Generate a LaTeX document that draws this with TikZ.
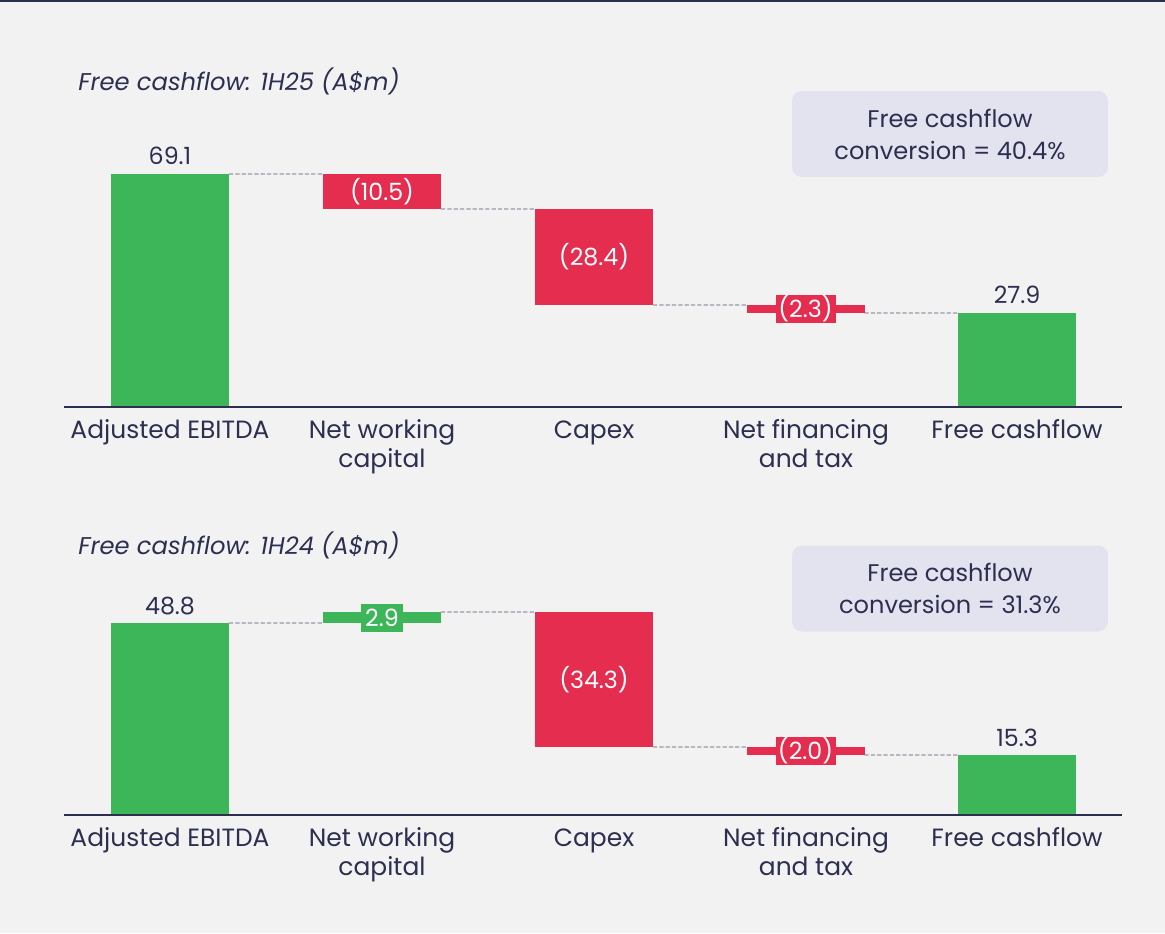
\documentclass[tikz,border=0pt]{standalone}
\usepackage{fontspec}
\setmainfont{Poppins}
\usepackage{tikz}

\definecolor{cfgreen}{HTML}{3DB559}
\definecolor{cfred}{HTML}{E52D50}
\definecolor{cfnavy}{HTML}{2D2F50}
\definecolor{cfback}{HTML}{F2F2F2}
\definecolor{cfbox}{HTML}{E3E2EF}

\begin{document}
\begin{tikzpicture}[x=0.02cm, y=-0.02cm,
	bar/.style={rectangle, draw=none, minimum width=2.36cm, inner sep=0pt, outer sep=0pt},
	txt/.style={text=cfnavy, font=\fontsize{13.5}{16.5}\selectfont, inner sep=0pt},
	inval/.style={text=white, font=\fontsize{13.5}{16.5}\selectfont, inner sep=0pt},
	tagval/.style={text=white, font=\fontsize{13.5}{16.5}\selectfont, inner sep=0pt, minimum height=0.56cm},
	cat/.style={txt, align=center, anchor=base, font=\fontsize{14.2}{16.5}\selectfont},
	link/.style={draw=cfnavy!85, dash pattern=on 2.4pt off 1.2pt, line width=0.45pt},
	axis/.style={draw=cfnavy, line width=0.8pt},
	convbox/.style={rectangle, rounded corners=0.2cm, fill=cfbox, minimum width=6.32cm, minimum height=1.72cm, align=center, text=cfnavy, font=\fontsize{13.7}{18.2}\selectfont}]
		
		% Page
		\fill[cfback] (0,0) rectangle (1165,933);
		\useasboundingbox (0,0) rectangle (1165,933);
		\draw[cfnavy, line width=1.2pt] (0,1) -- (1165,1);
		
		% Chart 1H25
		
		\node[txt, anchor=base west, font=\fontsize{13.8}{16.5}\selectfont\itshape] 
		(titleA) at (78,90) {Free cashflow: 1H25 (A\$m)};
		
		\node[convbox] (convA) at (950,134) {Free cashflow\\conversion = 40.4\%};
		
		\node[bar, fill=cfgreen, minimum height=4.66cm] (ebitdaA) at (170,290.5) {};
		\node[bar, fill=cfred, minimum height=0.70cm] (nwcA) at (382,191.5) {};
		\node[bar, fill=cfred, minimum height=1.92cm] (capexA) at (594,257) {};
		\node[bar, fill=cfred, minimum height=0.16cm] (finA) at (805.5,309) {};
		\node[bar, fill=cfgreen, minimum height=1.88cm] (fcfA) at (1017,360) {};
		
		\node[txt, anchor=base] (ebitdaAval) at (170,164) {69.1};
		\node[inval] (nwcAval) at (nwcA.center) {(10.5)};
		\node[inval] (capexAval) at (capexA.center) {(28.4)};
		\node[tagval, fill=cfred, minimum width=1.2cm] (finAval) at (finA.center) {(2.3)};
		\node[txt, anchor=base] (fcfAval) at (1017,303) {27.9};
		
		\draw[link] (ebitdaA.north east) -- (nwcA.north west);
		\draw[link] (nwcA.south east) -- (capexA.north west);
		\draw[link] (capexA.south east) -- (finA.north west);
		\draw[link] (finA.south east) -- (fcfA.north west);
		
		\coordinate (axisAstart) at (64,407);
		\coordinate (axisAend) at (1122,407);
		\draw[axis] (axisAstart) -- (axisAend);
		
		\node[cat] (catA1) at (170,438) {Adjusted EBITDA};
		\node[cat] (catA2) at (382,467) {Net working\\capital};
		\node[cat] (catA3) at (594,438) {Capex};
		\node[cat] (catA4) at (806,467) {Net financing\\and tax};
		\node[cat] (catA5) at (1017,438) {Free cashflow};
		
		% Chart 1H24
		
		\node[txt, anchor=base west, font=\fontsize{13.8}{16.5}\selectfont\itshape] 
		(titleB) at (78,554) {Free cashflow: 1H24 (A\$m)};
		
		\node[convbox] (convB) at (950,588.5) {Free cashflow\\conversion = 31.3\%};
		
		\node[bar, fill=cfgreen, minimum height=3.84cm] (ebitdaB) at (170,719) {};
		\node[bar, fill=cfgreen, minimum height=0.22cm] (nwcB) at (382,617.5) {};
		\node[bar, fill=cfred, minimum height=2.70cm] (capexB) at (594,679.5) {};
		\node[bar, fill=cfred, minimum height=0.16cm] (finB) at (805.5,751) {};
		\node[bar, fill=cfgreen, minimum height=1.20cm] (fcfB) at (1017,785) {};
		
		\node[txt, anchor=base] (ebitdaBval) at (170,614) {48.8};
		\node[tagval, fill=cfgreen, minimum width=0.84cm] (nwcBval) at (nwcB.center) {2.9};
		\node[inval] (capexBval) at (capexB.center) {(34.3)};
		\node[tagval, fill=cfred, minimum width=1.2cm] (finBval) at (finB.center) {(2.0)};
		\node[txt, anchor=base] (fcfBval) at (1017,746) {15.3};
		
		\draw[link] (ebitdaB.north east) -- (nwcB.south west);
		\draw[link] (nwcB.north east) -- (capexB.north west);
		\draw[link] (capexB.south east) -- (finB.north west);
		\draw[link] (finB.south east) -- (fcfB.north west);
		
		\coordinate (axisBstart) at (64,815);
		\coordinate (axisBend) at (1122,815);
		\draw[axis] (axisBstart) -- (axisBend);
		
		\node[cat] (catB1) at (170,846) {Adjusted EBITDA};
		\node[cat] (catB2) at (382,875) {Net working\\capital};
		\node[cat] (catB3) at (594,846) {Capex};
		\node[cat] (catB4) at (806,875) {Net financing\\and tax};
		\node[cat] (catB5) at (1017,846) {Free cashflow};
		
\end{tikzpicture}
\end{document}
